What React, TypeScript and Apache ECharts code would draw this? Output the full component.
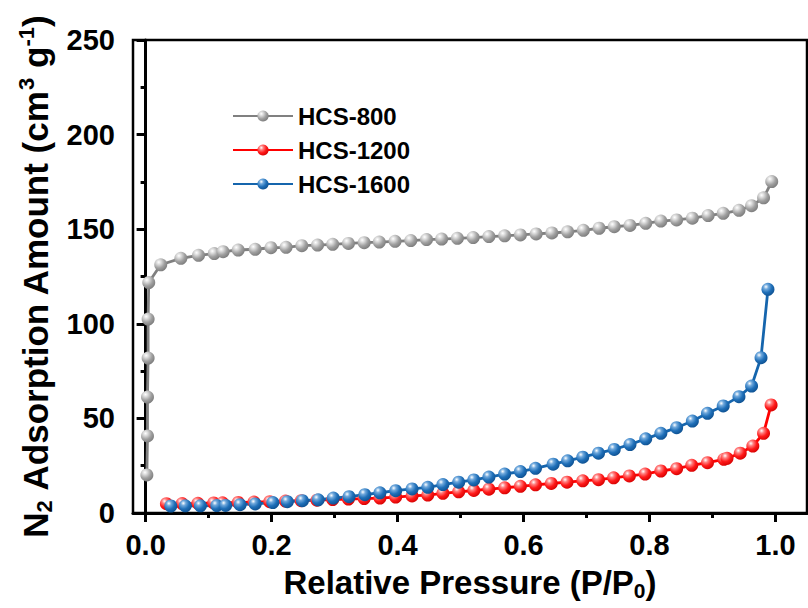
import React, { useEffect, useRef } from "react";
import * as echarts from "echarts";

const seriesNames = ["HCS-800", "HCS-1200", "HCS-1600"];

const p800 = [0.002, 0.003, 0.003, 0.004, 0.004, 0.005, 0.024, 0.056, 0.084, 0.109, 0.123, 0.147, 0.174, 0.199, 0.223, 0.248, 0.273, 0.297, 0.322, 0.347, 0.371, 0.396, 0.421, 0.446, 0.470, 0.495, 0.520, 0.545, 0.570, 0.595, 0.620, 0.645, 0.670, 0.695, 0.720, 0.744, 0.769, 0.794, 0.818, 0.843, 0.868, 0.893, 0.917, 0.942, 0.962, 0.981, 0.994];
const v800 = [20.1, 40.7, 61.3, 81.9, 102.5, 121.8, 131.2, 134.6, 136.2, 137.1, 138.1, 139.0, 139.4, 140.2, 140.4, 141.3, 141.6, 142.0, 142.5, 142.9, 143.2, 143.6, 144.0, 144.5, 144.8, 145.2, 145.6, 146.1, 146.5, 147.0, 147.5, 148.0, 148.6, 149.4, 150.5, 151.3, 152.0, 153.1, 154.3, 154.9, 155.8, 157.2, 158.4, 160.0, 162.4, 166.6, 175.2];

const p1200 = [0.033, 0.058, 0.083, 0.108, 0.122, 0.147, 0.172, 0.197, 0.222, 0.247, 0.272, 0.297, 0.322, 0.347, 0.372, 0.397, 0.423, 0.448, 0.472, 0.497, 0.521, 0.545, 0.570, 0.595, 0.619, 0.644, 0.669, 0.694, 0.719, 0.743, 0.768, 0.793, 0.818, 0.843, 0.867, 0.892, 0.918, 0.923, 0.944, 0.964, 0.981, 0.993];
const v1200 = [4.9, 5.0, 5.1, 5.3, 5.4, 5.6, 5.8, 6.0, 6.3, 6.5, 6.8, 7.1, 7.4, 7.6, 7.9, 8.4, 9.0, 9.5, 10.4, 11.2, 11.9, 12.6, 13.3, 14.1, 14.9, 15.6, 16.3, 17.0, 17.6, 18.6, 19.6, 20.6, 22.2, 23.4, 25.2, 26.6, 28.4, 28.9, 31.6, 35.4, 42.1, 57.1];

const p1600 = [0.040, 0.063, 0.087, 0.113, 0.127, 0.150, 0.174, 0.202, 0.225, 0.249, 0.274, 0.298, 0.323, 0.348, 0.372, 0.397, 0.423, 0.448, 0.472, 0.497, 0.521, 0.545, 0.570, 0.595, 0.619, 0.647, 0.670, 0.694, 0.719, 0.744, 0.769, 0.794, 0.818, 0.843, 0.868, 0.892, 0.917, 0.942, 0.962, 0.977, 0.988];
const v1600 = [3.7, 3.8, 3.8, 3.9, 4.0, 4.4, 4.8, 5.5, 6.0, 6.5, 7.0, 7.9, 8.6, 9.7, 10.7, 11.8, 12.7, 13.6, 15.0, 16.3, 17.5, 19.0, 20.6, 21.9, 23.6, 25.8, 27.6, 29.5, 31.6, 33.6, 36.2, 39.2, 42.1, 45.1, 48.6, 52.7, 56.6, 61.5, 67.1, 82.1, 118.2];

const xTickValues = [0, 0.2, 0.4, 0.6, 0.8, 1.0];
const xMinorTickValues = [0.1, 0.3, 0.5, 0.7, 0.9];

const FONT = "'Liberation Sans', Arial, sans-serif";

function sphere(light: string, mid: string, dark: string) {
  return new echarts.graphic.RadialGradient(0.35, 0.3, 0.75, [
    { offset: 0, color: "#ffffff" },
    { offset: 0.25, color: light },
    { offset: 0.6, color: mid },
    { offset: 1, color: dark },
  ]);
}

function pairs(xs: number[], ys: number[]) {
  return xs.map((x, i) => [x, ys[i]]);
}

export default function App() {
  const ref = useRef<HTMLDivElement>(null);
  useEffect(() => {
    if (!ref.current) return;
    const chart = echarts.init(ref.current, null, { renderer: "svg" });
    const mk = (name: string, data: number[][], line: string, fill: any) => ({
      name,
      type: "line",
      data,
      symbol: "circle",
      symbolSize: 13,
      showSymbol: true,
      lineStyle: { color: line, width: 2.8 },
      itemStyle: { color: fill, borderWidth: 0 },
      emphasis: { disabled: true },
    });
    const mkRich = (size: number, small: number, lh: number) => ({
      b: { fontSize: size, fontWeight: "bold", color: "#000", fontFamily: FONT, lineHeight: lh },
      sub: { fontSize: small, fontWeight: "bold", color: "#000", fontFamily: FONT, verticalAlign: "bottom", lineHeight: lh },
      sup: { fontSize: small, fontWeight: "bold", color: "#000", fontFamily: FONT, verticalAlign: "top", lineHeight: lh },
    });
    chart.setOption({
      animation: false,
      backgroundColor: "#ffffff",
      textStyle: { fontFamily: FONT },
      grid: {
        left: 133,
        top: 40,
        right: 1,
        bottom: 95,
        show: true,
        borderColor: "#000",
        borderWidth: 2.5,
        backgroundColor: "transparent",
      },
      legend: {
        orient: "vertical",
        left: 227,
        top: 98,
        itemWidth: 60,
        itemHeight: 14,
        itemGap: 8,
        data: seriesNames,
        textStyle: { fontSize: 24, fontWeight: "bold", color: "#000", fontFamily: FONT, lineHeight: 26 },
      },
      xAxis: [
        {
          type: "value",
          min: -0.02,
          max: 1.05,
          position: "bottom",
          name: "{b|Relative Pressure (P/P}{sub|0}{b|)}",
          nameLocation: "middle",
          nameGap: 50,
          nameTextStyle: { rich: mkRich(33, 21, 38) },
          splitLine: { show: false },
          axisLine: { show: true, lineStyle: { color: "#000", width: 3 } },
          axisTick: { show: true, inside: false, length: 9, lineStyle: { width: 3, color: "#000" }, customValues: xTickValues },
          axisLabel: {
            customValues: xTickValues,
            formatter: (v: number) => v.toFixed(1),
            fontSize: 29,
            fontWeight: "bold",
            color: "#000",
            fontFamily: FONT,
            margin: 17,
          },
        },
        {
          type: "value",
          min: -0.02,
          max: 1.05,
          position: "bottom",
          splitLine: { show: false },
          axisLine: { show: false },
          axisTick: { show: true, inside: false, length: 5, lineStyle: { width: 3, color: "#000" }, customValues: xMinorTickValues },
          axisLabel: { show: false },
        },
      ],
      yAxis: {
        type: "value",
        min: 0,
        max: 250,
        interval: 50,
        name: "{b|N}{sub|2}{b| Adsorption Amount (cm}{sup|3}{b| g}{sup|-1}{b|)}",
        nameLocation: "middle",
        nameGap: 76,
        nameRotate: 90,
        nameTextStyle: { rich: mkRich(35, 22, 40) },
        splitLine: { show: false },
        axisLine: { show: true, lineStyle: { color: "#000", width: 3 } },
        axisTick: { show: true, inside: false, length: 9, lineStyle: { width: 3, color: "#000" } },
        minorTick: { show: true, splitNumber: 2, length: 5, lineStyle: { width: 3, color: "#000" } },
        axisLabel: { fontSize: 29, fontWeight: "bold", color: "#000", fontFamily: FONT, margin: 18 },
      },
      series: [
        mk(seriesNames[0], pairs(p800, v800), "#808080", sphere("#d9d9d9", "#a0a0a0", "#7a7a7a")),
        mk(seriesNames[1], pairs(p1200, v1200), "#ff0000", sphere("#ff8080", "#ff1a1a", "#d40000")),
        mk(seriesNames[2], pairs(p1600, v1600), "#1565ad", sphere("#6fa8dc", "#1f6fb8", "#0d4f8f")),
      ],
    });
    return () => chart.dispose();
  }, []);
  return <div ref={ref} style={{ position: "fixed", left: 0, top: 0, width: 808, height: 608 }} />;
}
